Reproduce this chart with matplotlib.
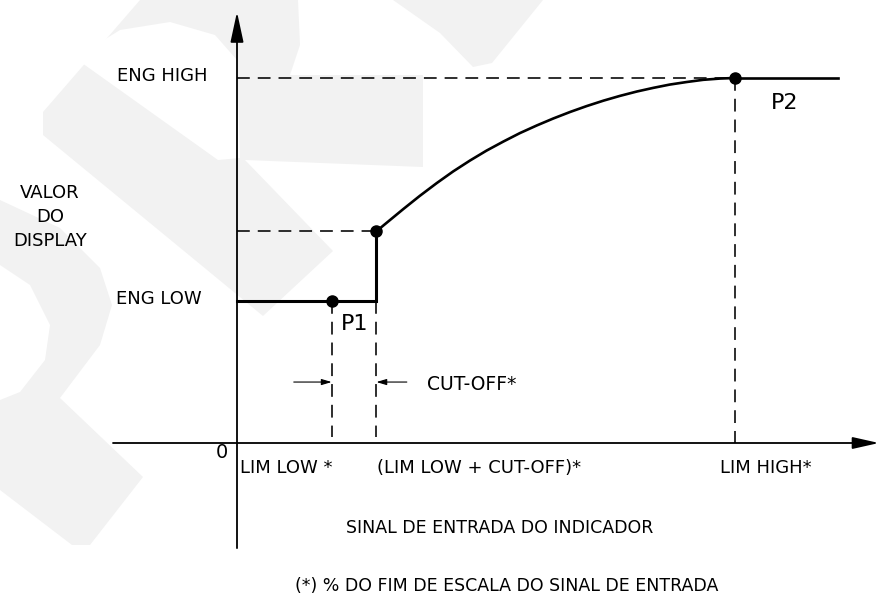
import matplotlib
matplotlib.use('Agg')

import matplotlib.pyplot as plt
from matplotlib.patches import Polygon

# valores do diagrama (x = % do sinal de entrada, y = % do display)
lim_low = 19
cut_off = 9
lim_high = 100
eng_low = 39
eng_cut = 58
eng_high = 100
x_end = 120.7

# curva entre (LIM LOW + CUT-OFF) e LIM HIGH
curve_x = [28, 29.4, 33.4, 36.7, 40.1, 43.4, 46.8, 50.1, 53.5, 56.8, 60.2, 63.5,
           66.9, 70.2, 73.6, 76.9, 80.3, 83.6, 86.9, 90.3, 93.6, 97, 100]
curve_y = [58, 59.6, 64.1, 67.7, 71.2, 74.4, 77.4, 80.1, 82.6, 84.9, 87.0, 88.9,
           90.7, 92.3, 93.8, 95.1, 96.3, 97.3, 98.2, 98.9, 99.5, 99.85, 100]

# marca d'agua (em pixels da imagem)
wm_shapes = [
    [(43, 112), (140, 0), (298, 0), (300, 45), (290, 75), (423, 75), (423, 167),
     (245, 160), (333, 251), (263, 316), (43, 135)],
    [(393, 0), (543, 0), (492, 63), (473, 67), (440, 33)],
    [(0, 200), (60, 228), (100, 268), (112, 305), (100, 345), (60, 398),
     (143, 477), (90, 545), (72, 545), (0, 490)],
]
wm_holes = [
    [(75, 58), (120, 30), (170, 22), (215, 35), (237, 60), (240, 158), (218, 160)],
    [(0, 265), (30, 285), (50, 325), (45, 360), (20, 392), (0, 400)],
]

fig = plt.figure(figsize=(8.8, 5.98), dpi=100)

# fundo com a marca d'agua
bg = fig.add_axes([0, 0, 1, 1])
bg.set_xlim(0, 880)
bg.set_ylim(598, 0)
bg.axis('off')
for s in wm_shapes:
    bg.add_patch(Polygon(s, closed=True, fc='#f2f2f2', ec='none'))
for s in wm_holes:
    bg.add_patch(Polygon(s, closed=True, fc='white', ec='none'))

ax = fig.add_axes([0, 0, 1, 1])
ax.patch.set_alpha(0)
ax.set_xlim(-237 / 4.98, 643 / 4.98)
ax.set_ylim(-155 / 3.65, 443 / 3.65)
ax.axis('off')

k = 'black'
dash = dict(color=k, lw=1.15, dashes=(8, 5))

# eixos com setas
ax.annotate('', xy=(128.9, 0), xytext=(-24.9, 0),
            arrowprops=dict(arrowstyle='-|>,head_length=1.6,head_width=0.36',
                            mutation_scale=10, lw=1.3, color=k, shrinkA=0, shrinkB=0))
ax.annotate('', xy=(0, 118.1), xytext=(0, -28.8),
            arrowprops=dict(arrowstyle='-|>,head_length=1.85,head_width=0.4',
                            mutation_scale=10, lw=1.3, color=k, shrinkA=0, shrinkB=0))

# linhas tracejadas de referencia
x_cut = lim_low + cut_off
ax.plot([0, lim_high], [eng_high, eng_high], **dash)
ax.plot([0, x_cut], [eng_cut, eng_cut], **dash)
ax.plot([lim_low, lim_low], [eng_low, 1.6], **dash)
ax.plot([x_cut, x_cut], [eng_low, 1.6], **dash)
ax.plot([lim_high, lim_high], [eng_high, 0], **dash)

# curva de resposta
ax.plot([0, x_cut, x_cut], [eng_low, eng_low, eng_cut], color=k, lw=2.2,
        solid_joinstyle='miter')
ax.plot(curve_x, curve_y, color=k, lw=1.9, solid_joinstyle='round')
ax.plot([lim_high, x_end], [eng_high, eng_high], color=k, lw=1.9)
ax.plot([lim_low, x_cut, lim_high], [eng_low, eng_cut, eng_high], 'o',
        color=k, ms=8)

# setas do cut-off
small = dict(arrowstyle='-|>,head_length=0.6,head_width=0.18', mutation_scale=10,
             lw=0.8, color=k, shrinkA=0, shrinkB=0)
ax.annotate('', xy=(lim_low, 16.7), xytext=(11.4, 16.7), arrowprops=small)
ax.annotate('', xy=(x_cut, 16.7), xytext=(34.1, 16.7), arrowprops=small)

fs = 13
ax.text(-6.0, 100.5, 'ENG HIGH', ha='right', va='center', fontsize=fs)
ax.text(-7.2, 39.5, 'ENG LOW', ha='right', va='center', fontsize=fs)
ax.text(-37.6, 61.9, 'VALOR\nDO\nDISPLAY', ha='center', va='center',
        fontsize=fs, linespacing=1.4, multialignment='center')
ax.text(-3.0, -2.5, '0', ha='center', va='center', fontsize=14)
ax.text(0.6, -6.8, 'LIM LOW *', ha='left', va='center', fontsize=fs)
ax.text(28.1, -6.8, '(LIM LOW + CUT-OFF)*', ha='left', va='center', fontsize=fs)
ax.text(97.0, -6.8, 'LIM HIGH*', ha='left', va='center', fontsize=fs)
ax.text(38.2, 15.9, 'CUT-OFF*', ha='left', va='center', fontsize=13.5)
ax.text(23.7, 32.6, 'P1', ha='center', va='center', fontsize=16)
ax.text(110.0, 93.2, 'P2', ha='center', va='center', fontsize=16)
ax.text(52.8, -23.3, 'SINAL DE ENTRADA DO INDICADOR', ha='center', va='center',
        fontsize=12.5)
ax.text(54.2, -39.2, '(*) % DO FIM DE ESCALA DO SINAL DE ENTRADA', ha='center',
        va='center', fontsize=12.5)

fig.savefig('out.png', dpi=100)
